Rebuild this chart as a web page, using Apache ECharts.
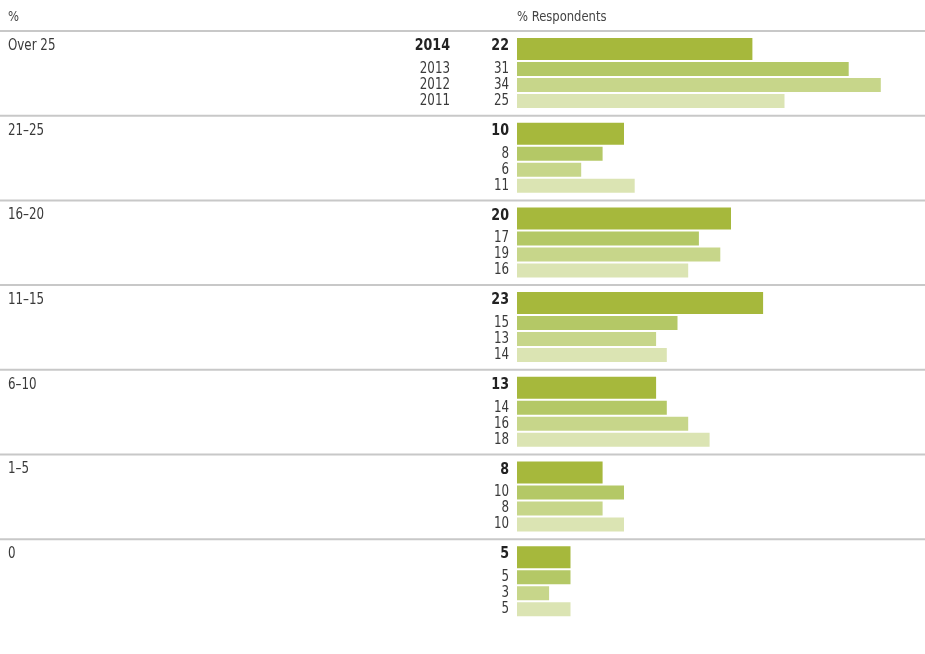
<!DOCTYPE html>
<html>
<head>
<meta charset="utf-8">
<script src="https://cdn.jsdelivr.net/npm/echarts@6/dist/echarts.min.js"></script>
<style>
  html, body { margin: 0; padding: 0; background: #fff; }
  #chart { width: 925px; height: 654px; }
</style>
</head>
<body>
<div id="chart"></div>
<script>
// Share of respondents by range, four survey years per range
const categories = ['Over 25', '21–25', '16–20', '11–15', '6–10', '1–5', '0'];
const years = ['2014', '2013', '2012', '2011'];
const values2014 = [22, 10, 20, 23, 13, 8, 5];
const values2013 = [31, 8, 17, 15, 14, 10, 5];
const values2012 = [34, 6, 19, 13, 16, 8, 3];
const values2011 = [25, 11, 16, 14, 18, 10, 5];

const seriesValues = [values2014, values2013, values2012, values2011];
const colors = ['#a6b83c', '#b4c866', '#c7d68a', '#dbe4b3'];
const FONT = "'Liberation Sans Narrow', 'DejaVu Sans Condensed', 'Roboto', sans-serif";
const NARROW = 0.88; // horizontal squeeze for a condensed look

// vertical slot of each year inside a category band (offset from band top, bar height)
const slots = [
  { top: 7, h: 22 },
  { top: 31, h: 14 },
  { top: 47, h: 14 },
  { top: 63, h: 14 }
];

function label(x, y, text, font, fill, align) {
  return {
    type: 'text',
    x: x, y: y, scaleX: NARROW,
    style: {
      x: 0, y: 0, text: text, fill: fill, font: font,
      textAlign: align, textVerticalAlign: 'middle'
    }
  };
}

function makeRender(k) {
  return function (params, api) {
    const catIdx = api.value(1);
    const val = api.value(0);
    const base = api.coord([0, catIdx]);
    const end = api.coord([val, catIdx]);
    const band = api.size([0, 1])[1];
    const bandTop = base[1] - band / 2;
    const slot = slots[k];
    const y0 = bandTop + slot.top;
    const bold = k === 0;
    const children = [];

    if (k === 0) {
      // separator rule across the full width at the top of each band
      children.push({
        type: 'line',
        shape: { x1: 0, y1: bandTop, x2: api.getWidth(), y2: bandTop },
        style: { stroke: '#c8c8c8', lineWidth: 2 }
      });
      children.push(label(8, bandTop + 15, categories[catIdx], '15px ' + FONT, '#3a3a3a', 'left'));
    }

    children.push({
      type: 'rect',
      shape: { x: base[0], y: y0, width: end[0] - base[0], height: slot.h },
      style: { fill: colors[k] }
    });

    const textY = bold ? y0 + 8 : y0 + slot.h / 2;
    const font = (bold ? 'bold 16px ' : '15px ') + FONT;
    const fill = bold ? '#222' : '#3a3a3a';
    children.push(label(base[0] - 8, textY, String(val), font, fill, 'right'));

    if (catIdx === 0) {
      children.push(label(450, textY, years[k], font, fill, 'right'));
    }
    return { type: 'group', children: children };
  };
}

const chart = echarts.init(document.getElementById('chart'), null, { renderer: 'canvas' });

chart.setOption({
  animation: false,
  grid: { left: 517, right: 1.4, top: 31, bottom: 30.1, containLabel: false },
  xAxis: { type: 'value', min: 0, max: 38, show: false },
  yAxis: { type: 'category', data: categories, inverse: true, show: false },
  graphic: [
    { type: 'text', x: 8, y: 17, scaleX: 0.92,
      style: { x: 0, y: 0, text: '%', fill: '#444', font: '14px ' + FONT, textVerticalAlign: 'middle' } },
    { type: 'text', x: 517, y: 17, scaleX: 0.92,
      style: { x: 0, y: 0, text: '% Respondents', fill: '#444', font: '14px ' + FONT, textVerticalAlign: 'middle' } }
  ],
  series: seriesValues.map(function (vals, k) {
    return {
      type: 'custom',
      name: years[k],
      renderItem: makeRender(k),
      encode: { x: 0, y: 1 },
      data: vals.map(function (v, i) { return [v, i]; }),
      clip: false,
      z: k === 0 ? 3 : 2
    };
  })
});
</script>
</body>
</html>
